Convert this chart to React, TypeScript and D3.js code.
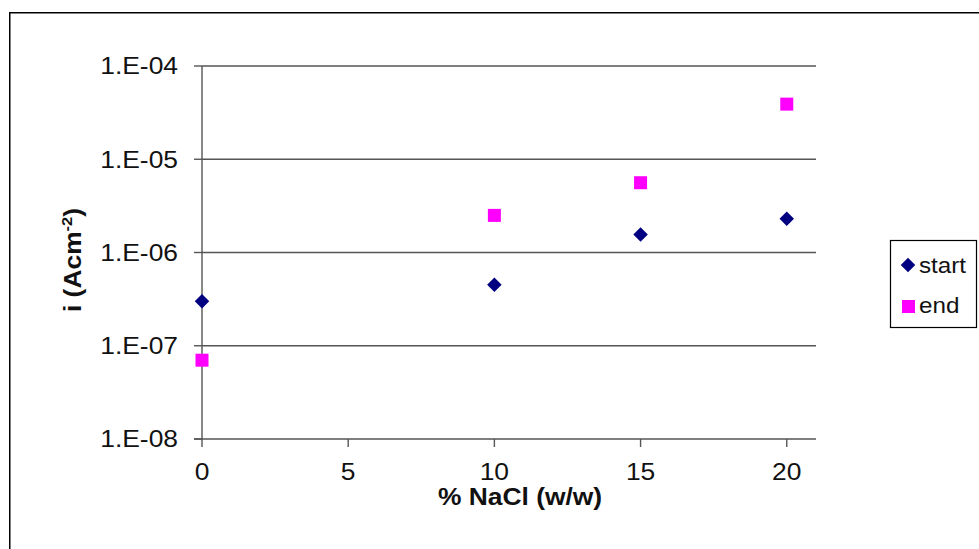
import React from 'react';
import * as d3 from 'd3';

const nacl = [0, 10, 15, 20];
const startVals = [3.0e-7, 4.5e-7, 1.56e-6, 2.3e-6];
const endVals = [7.0e-8, 2.5e-6, 5.6e-6, 3.9e-5];
const xTicks = [0, 5, 10, 15, 20];
const yTicks = [1e-8, 1e-7, 1e-6, 1e-5, 1e-4];
const yTickLabels = ['1.E-08', '1.E-07', '1.E-06', '1.E-05', '1.E-04'];
const seriesNames = ['start', 'end'];

const W = 979;
const H = 549;
const left = 202;
const right = 816;
const top = 66;
const bottom = 439;
const font = 'Liberation Sans, Arial, sans-serif';
const axisColor = '#555';
const sx = 1.1; // the source text is a bit wide

// stretched text helper
function T(props: { x: number; y: number; anchor?: string; size?: number; bold?: boolean; dy?: string; children: React.ReactNode }) {
  const { x, y, anchor = 'start', size = 24, bold = false, dy, children } = props;
  return (
    <text
      transform={`translate(${x},${y}) scale(${sx},1)`}
      dy={dy}
      textAnchor={anchor}
      fontFamily={font}
      fontSize={size}
      fontWeight={bold ? 'bold' : 'normal'}
      fill="#111"
    >
      {children}
    </text>
  );
}

export default function App() {
  const x = d3.scaleLinear().domain([0, 21]).range([left, right]);
  const y = d3.scaleLog().domain([1e-8, 1e-4]).range([bottom, top]);
  const diamond = d3.symbol().type(d3.symbolDiamond2).size(134)()!;

  return (
    <svg width={W} height={H} style={{ position: 'absolute', left: 0, top: 0 }}>
      <rect x={0} y={0} width={W} height={H} fill="#fff" />
      <rect x={9.75} y={12.75} width={W + 20} height={H + 20} fill="none" stroke="#000" strokeWidth={1.5} />

      {/* gridlines */}
      {yTicks.slice(1).map((t) => (
        <line key={t} x1={left} x2={right} y1={y(t)} y2={y(t)} stroke={axisColor} strokeWidth={1.4} />
      ))}
      {/* axes */}
      <line x1={left} x2={left} y1={top} y2={bottom} stroke={axisColor} strokeWidth={1.4} />
      <line x1={left - 8} x2={right} y1={bottom} y2={bottom} stroke={axisColor} strokeWidth={1.4} />
      {yTicks.map((t, i) => (
        <g key={t}>
          <line x1={left - 8} x2={left} y1={y(t)} y2={y(t)} stroke={axisColor} strokeWidth={1.4} />
          <T x={178} y={y(t)} dy="0.35em" anchor="end">{yTickLabels[i]}</T>
        </g>
      ))}
      {xTicks.map((t) => (
        <g key={t}>
          <line x1={x(t)} x2={x(t)} y1={bottom} y2={bottom + 8} stroke={axisColor} strokeWidth={1.4} />
          <T x={x(t)} y={480} anchor="middle">{t}</T>
        </g>
      ))}

      <T x={520} y={505} anchor="middle" bold>% NaCl (w/w)</T>
      <text
        transform={`translate(81, 260) rotate(-90) scale(${sx},1)`}
        textAnchor="middle"
        fontFamily={font}
        fontSize={24}
        fontWeight="bold"
        fill="#111"
      >
        i (Acm<tspan dy={-9} fontSize={15}>-2</tspan><tspan dy={9}>)</tspan>
      </text>

      {/* series */}
      {nacl.map((n, i) => (
        <path key={'s' + n} d={diamond} transform={`translate(${x(n)},${y(startVals[i])})`} fill="#000080" />
      ))}
      {nacl.map((n, i) => (
        <rect key={'e' + n} x={x(n) - 6.5} y={y(endVals[i]) - 6.5} width={13} height={13} fill="#ff00ff" />
      ))}

      {/* legend */}
      <rect x={890.5} y={240.5} width={86} height={87} fill="#fff" stroke="#000" strokeWidth={1.2} />
      <path d={diamond} transform="translate(908,265)" fill="#000080" />
      <T x={919} y={265} dy="0.35em" size={22}>{seriesNames[0]}</T>
      <rect x={902} y={300} width={13} height={13} fill="#ff00ff" />
      <T x={919} y={305} dy="0.35em" size={22}>{seriesNames[1]}</T>
    </svg>
  );
}
